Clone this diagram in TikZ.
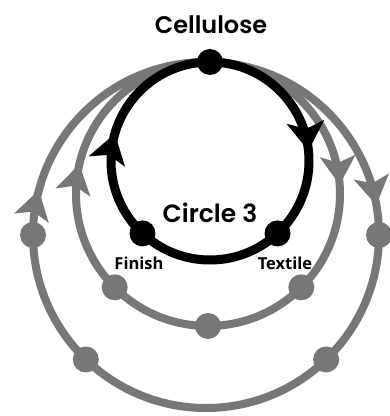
\documentclass[tikz,border=0pt]{standalone}
\usepackage{fontspec}
\newfontfamily\popfont{Poppins}[UprightFont=* SemiBold]
\newfontfamily\opfont{Open Sans}
\definecolor{cgray}{HTML}{777777}
\tikzset{
  bhead/.pic={\fill[black] (0,0) -- (-29,19) -- (-22,0) -- (-29,-19) -- cycle;},
  ghead/.pic={\fill[cgray] (0,0) -- (-29,18) -- (-22,0) -- (-29,-18) -- cycle;},
  blackring/.style={draw=black,line width=9pt},
  grayring/.style={draw=cgray,line width=8pt},
  bdot/.style={circle,fill=black,minimum size=26pt,inner sep=0pt},
  gdot/.style={circle,fill=cgray,minimum size=26pt,inner sep=0pt},
  bigtitle/.style={font=\popfont\fontsize{24}{28}\selectfont},
  smalllabel/.style={font=\opfont\bfseries\fontsize{16.5}{19}\selectfont}
}
\begin{document}
\begin{tikzpicture}[x=1pt,y=1pt]
\useasboundingbox (0,0) rectangle (390,416);
\coordinate (cO) at (206,181);
\coordinate (cM) at (208,222);
\coordinate (cB) at (210,255);
% outer gray ring
\draw[grayring] (cO) circle[radius=173];
\path (cO) ++(10:173) pic[rotate=-80] {ghead};
\path (cO) ++(165:173) pic[rotate=75] {ghead};
\path (cO) ++(180:173) node[gdot] (o1) {};
\path (cO) ++(-134:173) node[gdot] (o2) {};
\path (cO) ++(-46:173) node[gdot] (o3) {};
\path (cO) ++(0:173) node[gdot] (o4) {};
% middle gray ring
\draw[grayring] (cM) circle[radius=132];
\path (cM) ++(4:132) pic[rotate=-86] {ghead};
\path (cM) ++(167:132) pic[rotate=77] {ghead};
\path (cM) ++(-135:132) node[gdot] (m1) {};
\path (cM) ++(-90:132) node[gdot] (m2) {};
\path (cM) ++(-45:132) node[gdot] (m3) {};
% black ring
\draw[blackring] (cB) circle[radius=99];
\path (cB) ++(6:99) pic[rotate=-84] {bhead};
\path (cB) ++(164:99) pic[rotate=74] {bhead};
\path (cB) ++(90:99) node[bdot] (cell) {};
\path (cB) ++(-133:99) node[bdot] (fin) {};
\path (cB) ++(-47:99) node[bdot] (tex) {};
% labels
\node[bigtitle] (lcell) at (211,391) {Cellulose};
\node[bigtitle,font=\popfont\fontsize{25}{29}\selectfont] (lcirc) at (210,203) {Circle 3};
\node[smalllabel] (lfin) at (139,153) {Finish};
\node[smalllabel] (ltex) at (285,153) {Textile};
\end{tikzpicture}
\end{document}
